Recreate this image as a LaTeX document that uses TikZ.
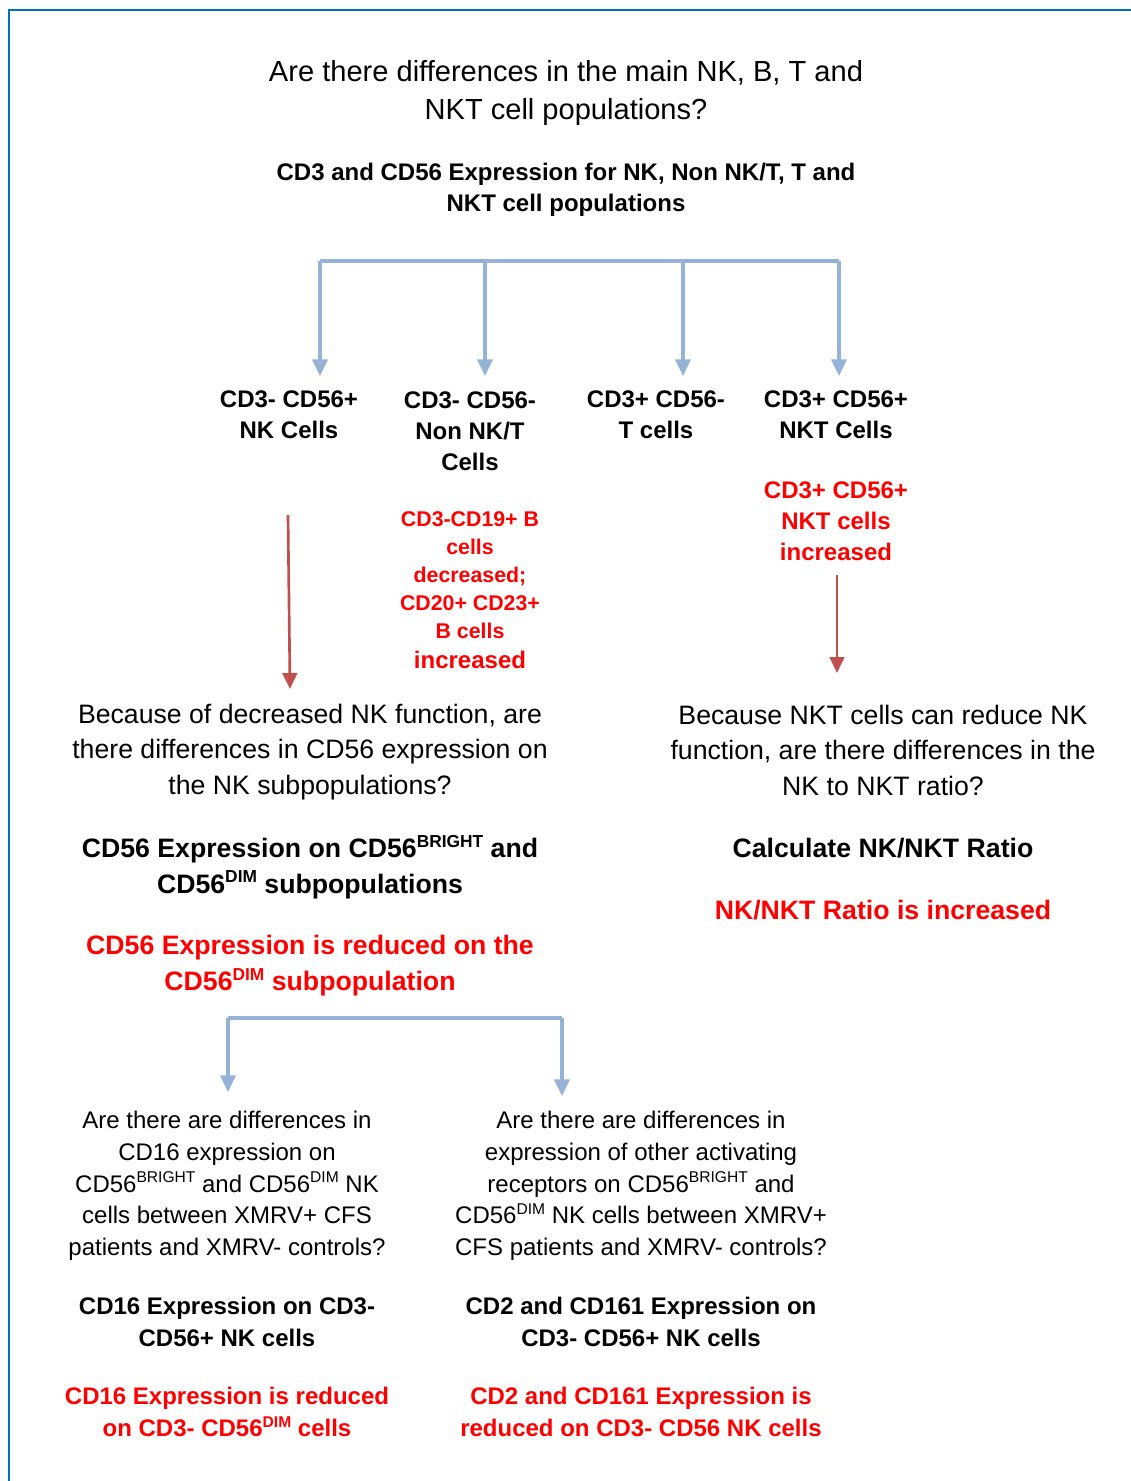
\documentclass[tikz,border=0pt]{standalone}
\usepackage{fontspec}
\setmainfont{Liberation Sans}
\usetikzlibrary{arrows.meta}
\definecolor{frameblue}{RGB}{0,112,192}
\definecolor{linkblue}{RGB}{149,179,215}
\definecolor{arrowred}{RGB}{192,80,77}
\newcommand\hi[1]{\raisebox{.75ex}{\scalebox{.65}{#1}}}
\begin{document}
\begin{tikzpicture}[x=0.75pt,y=-0.75pt,
    every node/.style={align=center,inner sep=0pt},
    ques/.style={font=\fontsize{20}{26.6}\selectfont},
    big/.style={font=\fontsize{21.8}{29.2}\selectfont},
    bold/.style={font=\fontsize{18}{23.4}\selectfont\bfseries},
    boldl/.style={font=\fontsize{20}{26.4}\selectfont\bfseries},
    small/.style={font=\fontsize{18}{23.8}\selectfont},
    res/.style={text=red},
    blink/.style={draw=linkblue,line width=2.4pt},
    bhead/.style={blink,-{Triangle[width=11.5pt,length=12.5pt]}},
    rhead/.style={draw=arrowred,line width=2pt,-{Triangle[width=11pt,length=12pt]}}]
   \useasboundingbox (0,0) rectangle (1131,1481);
   \draw[frameblue,line width=1.5pt] (9,1490) -- (9,10) -- (1140,10);
   \node[big] (title) at (566,93) {Are there differences in the main NK, B, T and\\NKT cell populations?};
   \node[bold] (cd) at (566,190) {CD3 and CD56 Expression for NK, Non NK/T, T and\\NKT cell populations};
   \node[bold] (nk) at (289,415) {CD3- CD56+\\NK Cells};
   \node[bold] (nonnk) at (470,431) {CD3- CD56-\\Non NK/T\\Cells};
   \node[bold] (tcell) at (656,415) {CD3+ CD56-\\T cells};
   \node[bold] (nkt) at (836,415) {CD3+ CD56+\\NKT Cells};
   \node[bold,res] (nktup) at (836,521) {CD3+ CD56+\\NKT cells\\increased};
   \node[res,font=\fontsize{16}{21}\selectfont\bfseries] (bcell) at (470,590)
     {CD3-CD19+ B\\cells\\decreased;\\CD20+ CD23+\\B cells\\[1.5pt]{\fontsize{18}{21}\selectfont increased}};
   \coordinate (t1) at (320,261); \coordinate (t2) at (485,261);
   \coordinate (t3) at (683,261); \coordinate (t4) at (839,261);
   \coordinate (e1) at (320,376); \coordinate (e2) at (485,376);
   \coordinate (e3) at (683,376); \coordinate (e4) at (839,376);
   \draw[blink] (t1) -- (t4);
   \foreach \i in {1,...,4}
     \draw[bhead] (t\i) -- (e\i);
   \coordinate (ra) at (288,515); \coordinate (rb) at (290,689);
   \coordinate (rc) at (837,575); \coordinate (rd) at (837,673);
   \draw[rhead] (ra) -- (rb);
   \draw[rhead] (rc) -- (rd);
   \node[ques] (q1) at (310,752) {Because of decreased NK function, are\\there differences in CD56 expression on\\the NK subpopulations?};
   \node[ques] (q2) at (883,750) {Because NKT cells can reduce NK\\function, are there differences in the\\NK to NKT ratio?};
   \node[boldl] (m1) at (310,867) {CD56 Expression on CD56\hi{BRIGHT} and\\CD56\hi{DIM} subpopulations};
   \node[boldl] (m2) at (883,848) {Calculate NK/NKT Ratio};
   \node[boldl,res,font=\fontsize{20}{27}\selectfont\bfseries] (r1) at (310,966) {CD56 Expression is reduced on the\\CD56\hi{DIM} subpopulation};
   \node[boldl,res] (r2) at (883,910) {NK/NKT Ratio is increased};
   \coordinate (s0) at (228,1018); \coordinate (s1) at (562,1018);
   \coordinate (f0) at (228,1092); \coordinate (f1) at (562,1096);
   \draw[blink] (s0) -- (s1);
   \draw[bhead] (s0) -- (f0);
   \draw[bhead] (s1) -- (f1);
   \node[small] (bq1) at (227,1186) {Are there are differences in\\CD16 expression on\\CD56\hi{BRIGHT} and CD56\hi{DIM} NK\\cells between XMRV+ CFS\\patients and XMRV- controls?};
   \node[small] (bq2) at (641,1186) {Are there are differences in\\expression of other activating\\receptors on CD56\hi{BRIGHT} and\\CD56\hi{DIM} NK cells between XMRV+\\CFS patients and XMRV- controls?};
   \node[bold] (bm1) at (227,1322) {CD16 Expression on CD3-\\CD56+ NK cells};
   \node[bold] (bm2) at (641,1322) {CD2 and CD161 Expression on\\CD3- CD56+ NK cells};
   \node[bold,res,font=\fontsize{18}{24}\selectfont\bfseries] (br1) at (227,1412) {CD16 Expression is reduced\\on CD3- CD56\hi{DIM} cells};
   \node[bold,res,font=\fontsize{18}{24}\selectfont\bfseries] (br2) at (641,1412) {CD2 and CD161 Expression is\\reduced on CD3- CD56 NK cells};
\end{tikzpicture}
\end{document}
